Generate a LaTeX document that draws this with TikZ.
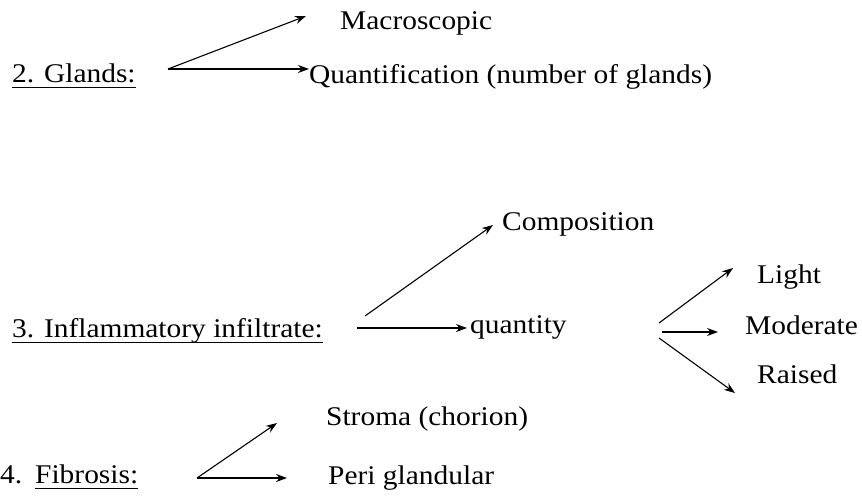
\documentclass[tikz,border=0pt]{standalone}
\usepackage{fontspec}
\setmainfont[FakeStretch=1.09]{Liberation Serif}
\usetikzlibrary{arrows.meta}
\begin{document}
\begin{tikzpicture}[x=1pt,y=-1pt,
  lbl/.style={anchor=base west,inner sep=0pt,font=\fontsize{27}{32}\selectfont},
  arr/.style={-{Stealth[length=11pt,width=8pt]},line width=1.1pt},
  ul/.style={line width=0.9pt}]
\useasboundingbox (0,0) rectangle (862,496);
% 2. Glands
\node[lbl] (glands) at (12,82) {2. Glands:};
\draw[ul] ([yshift=-5pt]glands.base west) -- ([yshift=-5pt]glands.base east);
\node[lbl] (macro) at (340,29) {Macroscopic};
\node[lbl] (quant) at (309,83) {Quantification (number of glands)};
\coordinate (g0) at (168,69);
\coordinate (gm) at (306,16);
\coordinate (gq) at (309,69);
\draw[arr] (g0) -- (gm);
\draw[arr] (g0) -- (gq);
% 3. Inflammatory infiltrate
\node[lbl] (infl) at (12,337) {3. Inflammatory infiltrate:};
\draw[ul] ([yshift=-5pt]infl.base west) -- ([yshift=-5pt]infl.base east);
\node[lbl] (comp) at (502,230) {Composition};
\node[lbl] (qty) at (470,333) {quantity};
\coordinate (i0) at (357,328);
\coordinate (i1) at (365,316);
\coordinate (ic) at (493,225);
\coordinate (iq) at (467,328);
\draw[arr] (i1) -- (ic);
\draw[arr] (i0) -- (iq);
\node[lbl] (light) at (757,283) {Light};
\node[lbl] (mod) at (745,334) {Moderate};
\node[lbl] (raised) at (757,383) {Raised};
\coordinate (q1) at (659,323);
\coordinate (q2) at (662,332);
\coordinate (q3) at (659,338);
\coordinate (tl) at (733,268);
\coordinate (tm) at (718,332);
\coordinate (tr) at (735,393);
\draw[arr] (q1) -- (tl);
\draw[arr] (q2) -- (tm);
\draw[arr] (q3) -- (tr);
% 4. Fibrosis
\node[lbl] (num4) at (0,483) {4.};
\node[lbl] (fib) at (35,483) {Fibrosis:};
\draw[ul] ([yshift=-5pt]fib.base west) -- ([yshift=-5pt]fib.base east);
\node[lbl] (stroma) at (326,425) {Stroma (chorion)};
\node[lbl] (peri) at (328,484) {Peri glandular};
\coordinate (f0) at (197,478);
\coordinate (fs) at (277,423);
\coordinate (fp) at (287,478);
\draw[arr] (f0) -- (fs);
\draw[arr] (f0) -- (fp);
\end{tikzpicture}
\end{document}
